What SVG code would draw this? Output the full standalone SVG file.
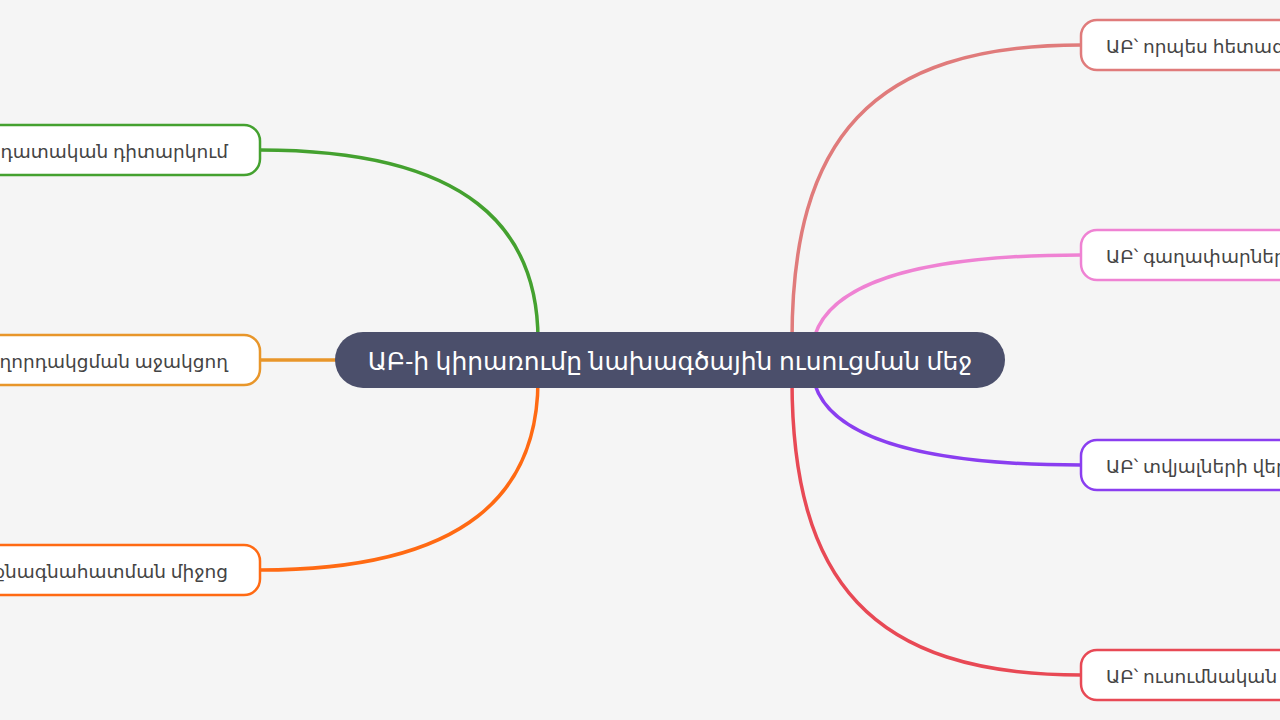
<svg xmlns="http://www.w3.org/2000/svg" width="1280" height="720" viewBox="0 0 1280 720">
<style>
.bg{fill:#f5f5f5}
.n rect{fill:#ffffff;stroke-width:2.5}
.t{font-family:"Noto Sans","DejaVu Sans",sans-serif;font-size:18.5px;fill:#444444;dominant-baseline:central}
.c{fill:none;stroke-width:3.5}
.root rect{fill:#4b4f6b}
.root text{font-family:"Noto Sans","DejaVu Sans",sans-serif;font-size:25px;fill:#ffffff;text-anchor:middle;dominant-baseline:central}
</style>
<rect class="bg" width="1280" height="720"/>
<g id="connectors">
<path class="c" stroke="#44a12f" d="M260,150 C470,150 538,230 538,340"/>
<path class="c" stroke="#e8962a" d="M260,360 L340,360"/>
<path class="c" stroke="#ff6a13" d="M260,570 C470,570 538,490 538,380"/>
<path class="c" stroke="#e07b7b" d="M1081,45 C870,45 792,140 792,340"/>
<path class="c" stroke="#ef82d3" d="M1081,255 C900,255 830,290 815,335"/>
<path class="c" stroke="#8a3ef0" d="M1081,465 C900,465 830,430 815,385"/>
<path class="c" stroke="#e84955" d="M1081,675 C870,675 792,580 792,380"/>
</g>
<g id="root" class="root">
<rect x="335" y="332" width="670" height="56" rx="28"/>
<text x="670" y="360">ԱԲ-ի կիրառումը նախագծային ուսուցման մեջ</text>
</g>
<g id="n1" class="n">
<rect x="-60" y="125" width="320" height="50" rx="16" stroke="#44a12f"/>
<text class="t" x="228" y="150" text-anchor="end">ադատական դիտարկում</text>
</g>
<g id="n2" class="n">
<rect x="-60" y="335" width="320" height="50" rx="16" stroke="#e8962a"/>
<text class="t" x="228" y="360" text-anchor="end">աղորդակցման աջակցող</text>
</g>
<g id="n3" class="n">
<rect x="-60" y="545" width="320" height="50" rx="16" stroke="#ff6a13"/>
<text class="t" x="228" y="570" text-anchor="end">քնագնահատման միջոց</text>
</g>
<g id="n4" class="n">
<rect x="1081" y="20" width="260" height="50" rx="16" stroke="#e07b7b"/>
<text class="t" x="1106" y="45">ԱԲ՝ որպես հետազ</text>
</g>
<g id="n5" class="n">
<rect x="1081" y="230" width="260" height="50" rx="16" stroke="#ef82d3"/>
<text class="t" x="1106" y="255">ԱԲ՝ գաղափարներ</text>
</g>
<g id="n6" class="n">
<rect x="1081" y="440" width="260" height="50" rx="16" stroke="#8a3ef0"/>
<text class="t" x="1106" y="465">ԱԲ՝ տվյալների վեր</text>
</g>
<g id="n7" class="n">
<rect x="1081" y="650" width="260" height="50" rx="16" stroke="#e84955"/>
<text class="t" x="1106" y="675">ԱԲ՝ ուսումնական</text>
</g>
</svg>
